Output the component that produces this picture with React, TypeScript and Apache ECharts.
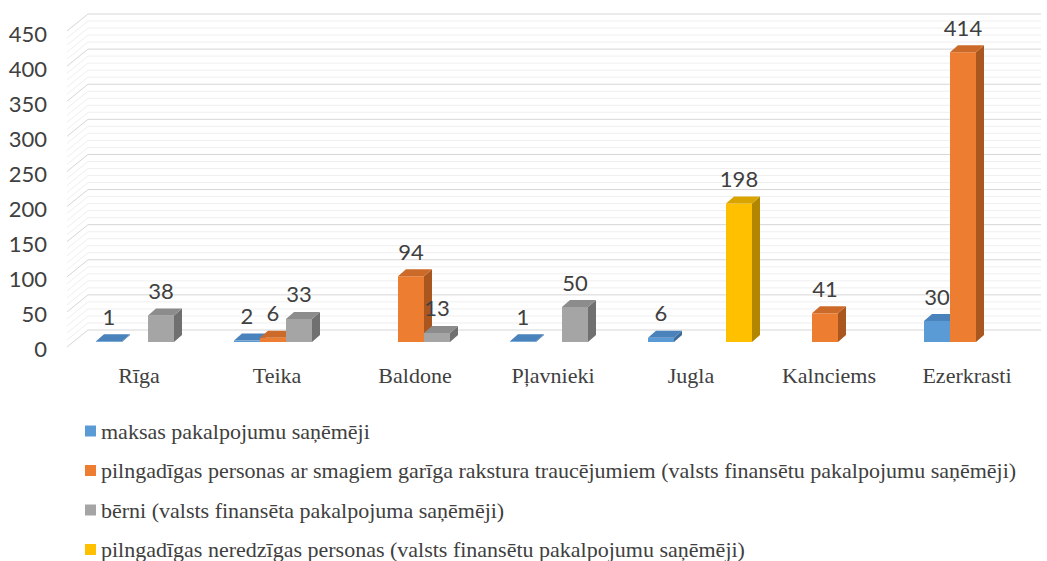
import React, { useEffect, useRef } from "react";
import * as echarts from "echarts";

const categories = ["Rīga", "Teika", "Baldone", "Pļavnieki", "Jugla", "Kalnciems", "Ezerkrasti"];
const seriesNames = [
  "maksas pakalpojumu saņēmēji",
  "pilngadīgas personas ar smagiem garīga rakstura traucējumiem (valsts finansētu pakalpojumu saņēmēji)",
  "bērni (valsts finansēta pakalpojuma saņēmēji)",
  "pilngadīgas neredzīgas personas (valsts finansētu pakalpojumu saņēmēji)",
];
const maksas = [1, 2, null, 1, 6, null, 30];
const pilngadigas = [null, 6, 94, null, null, 41, 414];
const berni = [38, 33, 13, 50, null, null, null];
const neredzigas = [null, null, null, null, 198, null, null];
const yTicks = [0, 50, 100, 150, 200, 250, 300, 350, 400, 450];

const seriesValues = [maksas, pilngadigas, berni, neredzigas];
const frontColors = ["#5B9BD5", "#ED7D31", "#A5A5A5", "#FFC000"];
const topColors = ["#4A82BC", "#CC6A29", "#8C8C8C", "#D9A400"];
const sideColors = ["#3E6C9A", "#A9561F", "#707070", "#B38600"];

const Y_MAX = 450;
const SLOT_RATIO = 26 / 138;
const DX = 8;
const DY = 7;
const TEXT = "#404040";
const SERIF = "Liberation Serif";

export default function App() {
  const ref = useRef<HTMLDivElement>(null);
  useEffect(() => {
    if (!ref.current) return;
    const chart = echarts.init(ref.current, undefined, { renderer: "svg" });

    const legendText = {
      fontFamily: SERIF,
      fontSize: 22,
      lineHeight: 22,
      color: TEXT,
    };

    const barSeries = seriesValues.map((vals, s) => ({
      type: "custom",
      name: seriesNames[s],
      xAxisIndex: 1,
      yAxisIndex: 1,
      z: 5,
      itemStyle: { color: frontColors[s] },
      data: vals.map((v, i) => (v == null ? null : [i, v])).filter((d) => d !== null),
      renderItem: (params: any, api: any) => {
        const v = api.value(1);
        const idx = api.value(0);
        if (v == null || isNaN(v) || v === 0) return null;
        const base = api.coord([idx, 0]);
        const top = api.coord([idx, v]);
        const band = api.size([1, 0])[0];
        const slot = band * SLOT_RATIO;
        const x0 = base[0] + (s - 2) * slot;
        const x1 = x0 + slot;
        const yb = base[1];
        const yt = top[1];
        return {
          type: "group",
          children: [
            {
              type: "polygon",
              shape: { points: [[x1, yt], [x1 + DX, yt - DY], [x1 + DX, yb - DY], [x1, yb]] },
              style: { fill: sideColors[s] },
            },
            {
              type: "rect",
              shape: { x: x0, y: yt, width: slot, height: yb - yt },
              style: { fill: frontColors[s] },
            },
            {
              type: "polygon",
              shape: { points: [[x0, yt], [x1, yt], [x1 + DX, yt - DY], [x0 + DX, yt - DY]] },
              style: { fill: topColors[s] },
            },
            {
              type: "text",
              style: {
                text: String(v),
                x: x0 + slot / 2,
                y: yt - DY - 18,
                align: "center",
                verticalAlign: "middle",
                fontFamily: "Lato",
                fontSize: 22,
                fill: TEXT,
              },
            },
          ],
        };
      },
    }));

    const wallSeries = {
      type: "custom",
      silent: true,
      xAxisIndex: 2,
      yAxisIndex: 2,
      z: 1,
      data: yTicks.map((t) => [0, t]),
      renderItem: (params: any, api: any) => {
        const v = api.value(1);
        const children: any[] = [];
        const addLine = (val: number, color: string) => {
          const [xl, y] = api.coord([0, val]);
          const [xr] = api.coord([1, val]);
          children.push({
            type: "polyline",
            shape: { points: [[xl - 21, y + 17], [xl, y], [xr, y]] },
            style: { stroke: color, lineWidth: 1, fill: null },
          });
        };
        if (v < Y_MAX) {
          for (let k = 1; k < 5; k++) addLine(v + k * 10, "#EFEFEF");
        }
        addLine(v, "#D6D6D6");
        return { type: "group", children };
      },
    };

    chart.setOption({
      animation: false,
      backgroundColor: "#ffffff",
      textStyle: { fontFamily: SERIF },
      grid: [
        { left: 70, top: 33, width: 966, height: 315 },
        { left: 79, top: 27, width: 966, height: 315 },
        { left: 88, top: 14, width: 953, height: 316 },
      ],
      xAxis: [
        {
          gridIndex: 0,
          type: "category",
          data: categories,
          axisLine: { show: false },
          axisTick: { show: false },
          axisLabel: {
            margin: 16,
            fontFamily: SERIF,
            fontSize: 22,
            color: TEXT,
          },
        },
        { gridIndex: 1, type: "category", data: categories, show: false },
        { gridIndex: 2, type: "value", min: 0, max: 1, show: false },
      ],
      yAxis: [
        {
          gridIndex: 0,
          type: "value",
          min: 0,
          max: Y_MAX,
          interval: 50,
          axisLine: { show: false },
          axisTick: { show: false },
          splitLine: { show: false },
          axisLabel: { margin: 23, fontFamily: "Lato", fontSize: 22, color: TEXT },
        },
        { gridIndex: 1, type: "value", min: 0, max: Y_MAX, show: false },
        { gridIndex: 2, type: "value", min: 0, max: Y_MAX, show: false },
      ],
      legend: {
        orient: "vertical",
        left: 85,
        top: 420,
        width: 960,
        height: 200,
        padding: 0,
        icon: "rect",
        itemWidth: 11,
        itemHeight: 11,
        itemGap: 17.5,
        data: seriesNames,
        formatter: "{s|{name}}",
        textStyle: {
          ...legendText,
          rich: { s: legendText },
        },
      },
      series: [wallSeries, ...barSeries],
    });
    return () => chart.dispose();
  }, []);
  return (
    <div
      ref={ref}
      style={{ position: "fixed", left: 0, top: 0, width: 1047, height: 561, background: "#fff" }}
    />
  );
}
